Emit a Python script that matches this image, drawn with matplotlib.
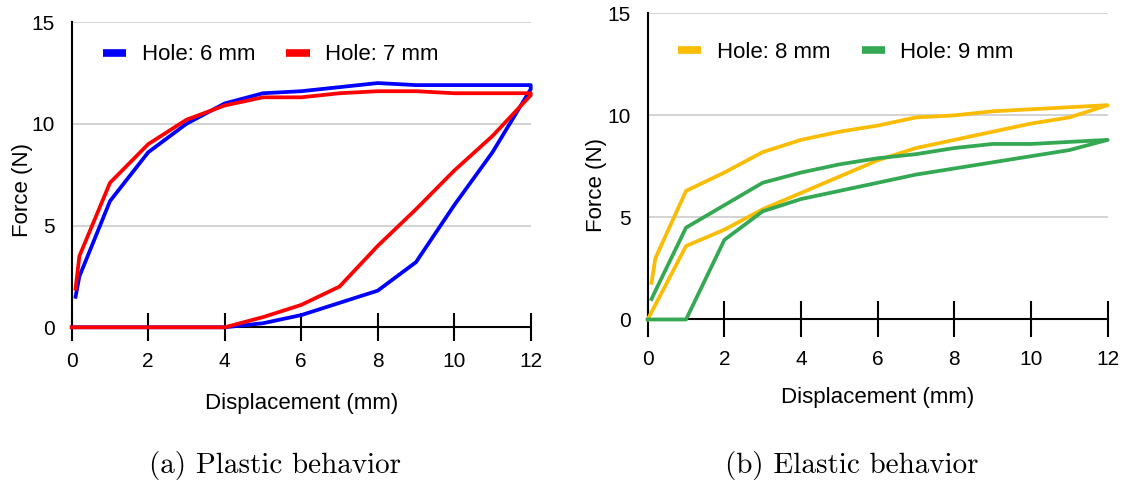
import matplotlib
matplotlib.use("Agg")
import matplotlib.pyplot as plt
from matplotlib.lines import Line2D

# displacement steps: loading goes out to 12 mm, unloading comes back to 0
x_load = [0.1, 0.2, 1, 2, 3, 4, 5, 6, 7, 8, 9, 10, 11, 12]
x_unload = [12, 11, 10, 9, 8, 7, 6, 5, 4, 3, 2, 1, 0]

# plastic behavior
hole6_load = [1.5, 2.5, 6.2, 8.6, 10.0, 11.0, 11.5, 11.6, 11.8, 12.0, 11.9, 11.9, 11.9, 11.9]
hole6_unload = [11.7, 8.6, 6.0, 3.2, 1.8, 1.2, 0.6, 0.2, 0, 0, 0, 0, 0]
hole7_load = [1.9, 3.5, 7.1, 9.0, 10.2, 10.9, 11.3, 11.3, 11.5, 11.6, 11.6, 11.5, 11.5, 11.5]
hole7_unload = [11.4, 9.4, 7.7, 5.8, 4.0, 2.0, 1.1, 0.5, 0, 0, 0, 0, 0]

# elastic behavior
hole8_load = [1.8, 3.0, 6.3, 7.2, 8.2, 8.8, 9.2, 9.5, 9.9, 10.0, 10.2, 10.3, 10.4, 10.5]
hole8_unload = [10.5, 9.9, 9.6, 9.2, 8.8, 8.4, 7.8, 7.0, 6.2, 5.4, 4.4, 3.6, 0]
hole9_load = [1.0, 1.4, 4.5, 5.6, 6.7, 7.2, 7.6, 7.9, 8.1, 8.4, 8.6, 8.6, 8.7, 8.8]
hole9_unload = [8.8, 8.3, 8.0, 7.7, 7.4, 7.1, 6.7, 6.3, 5.9, 5.3, 3.9, 0, 0]

xticks = [0, 2, 4, 6, 8, 10, 12]
yticks = [0, 5, 10, 15]

plt.rcParams['font.family'] = ['Liberation Sans', 'DejaVu Sans']

fig = plt.figure(figsize=(11.28, 4.88), dpi=100)
ax1 = fig.add_axes([0.0636, 0.3293, 0.4069, 0.6256])
ax2 = fig.add_axes([0.5742, 0.3453, 0.4078, 0.6274])


def setup(ax, ticklen, xpad, ylabx, ylaby, xlaby):
    ax.set_xlim(0, 12)
    ax.set_ylim(0, 15)
    for s in ['top', 'right']:
        ax.spines[s].set_visible(False)
    ax.spines['left'].set_linewidth(1.5)
    ax.spines['bottom'].set_linewidth(1.5)
    ax.spines['left'].set_zorder(1.5)
    ax.spines['bottom'].set_zorder(1.5)
    ax.set_xticks(xticks)
    ax.set_yticks(yticks)
    ax.tick_params(axis='x', direction='inout', length=ticklen, width=1.5,
                   pad=xpad, labelsize=15)
    ax.tick_params(axis='y', length=0, pad=12, labelsize=15)
    ax.yaxis.grid(True, color='#cccccc', linewidth=1.2)
    ax.set_axisbelow(True)
    ax.set_xlabel('Displacement (mm)', fontsize=16, va='center')
    ax.xaxis.set_label_coords(0.5, xlaby)
    ax.set_ylabel('Force (N)', fontsize=16, va='center')
    ax.yaxis.set_label_coords(ylabx, ylaby)


def draw(ax, load, unload, color):
    ax.plot(x_load + x_unload, load + unload, color=color, lw=2.7,
            clip_on=False, zorder=3, solid_joinstyle='round')


setup(ax1, 20, 8, -0.108, 0.45, -0.248)
draw(ax1, hole6_load, hole6_unload, '#0000ff')
draw(ax1, hole7_load, hole7_unload, '#ff0000')

setup(ax2, 26, 9, -0.112, 0.44, -0.256)
draw(ax2, hole8_load, hole8_unload, '#fbbc04')
draw(ax2, hole9_load, hole9_unload, '#34a853')


def legend(ax, labels, colors, x, y):
    handles = [Line2D([], [], color=c, lw=5.5, solid_capstyle='butt') for c in colors]
    ax.legend(handles, labels, ncol=2, frameon=False, loc='center left',
              bbox_to_anchor=(x, y), fontsize=16, handlelength=1.05,
              handletextpad=0.7, columnspacing=1.4, borderpad=0, borderaxespad=0)


legend(ax1, ['Hole: 6 mm', 'Hole: 7 mm'], ['#0000ff', '#ff0000'], 0.068, 0.892)
legend(ax2, ['Hole: 8 mm', 'Hole: 9 mm'], ['#fbbc04', '#34a853'], 0.066, 0.872)

fig.text(275 / 1128, 1 - 466 / 488, '(a) Plastic behavior', family='cmr10',
         fontsize=21, ha='center', va='center')
fig.text(852 / 1128, 1 - 466 / 488, '(b) Elastic behavior', family='cmr10',
         fontsize=21, ha='center', va='center')

fig.savefig('out.png', dpi=100)
